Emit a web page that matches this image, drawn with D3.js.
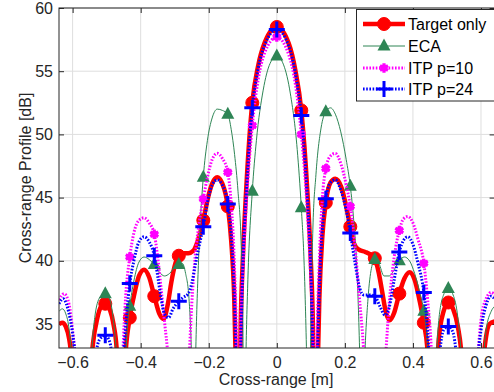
<!DOCTYPE html>
<html>
<head>
<meta charset="utf-8">
<script src="https://cdn.jsdelivr.net/npm/d3@7"></script>
<style>
  body { margin: 0; background: #fff; }
  svg { display: block; font-family: "Liberation Sans", Arial, Helvetica, sans-serif; }
</style>
</head>
<body>
<div id="chart"></div>
<script>
// ---- data ----
const xTicks = [-0.6, -0.4, -0.2, 0, 0.2, 0.4, 0.6];
const yTicks = [35, 40, 45, 50, 55, 60];
const seriesNames = ["Target only", "ECA", "ITP p=10", "ITP p=24"];

const markerX = [-0.504, -0.432, -0.36, -0.288, -0.216, -0.144, -0.072, 0, 0.072, 0.144, 0.216, 0.288, 0.36, 0.432, 0.504];
const targetMarks = [36.6, 35.5, 37.2, 40.4, 43.2, 44.3, 52.5, 58.5, 51.9, 44.6, 42.7, 40.2, 37.4, 35.1, 36.7];
const ecaMarks = [37.4, 36.4, 39.7, 39.7, 46.6, 51.6, 45.5, 56.2, 44.2, 51.8, 45.9, 40.1, 40.0, 36.0, 37.8];
const itp10Marks = [28, 40.3, 42.1, 23, 44.9, 47.0, 50.7, 57.7, 50.0, 47.3, 44.3, 23, 42.4, 39.8, 28];
const itp24Marks = [34.1, 38.2, 40.4, 36.8, 42.7, 44.5, 52.1, 58.3, 51.5, 44.9, 42.2, 37.2, 40.7, 37.5, 34.8];

const targetCurve = [
  [-0.64, 35.0], [-0.63, 35.1], [-0.62, 34.8], [-0.61, 33.8], [-0.60, 31.5], [-0.585, 24], [-0.565, 24],
  [-0.55, 30.5], [-0.54, 33.5], [-0.528, 35.4], [-0.516, 36.4], [-0.504, 36.6], [-0.49, 36.1], [-0.48, 35.0],
  [-0.47, 32.8], [-0.458, 22], [-0.446, 32], [-0.432, 35.5], [-0.42, 37.2], [-0.405, 38.8], [-0.39, 39.3],
  [-0.375, 38.7], [-0.36, 37.2], [-0.345, 35.8], [-0.333, 35.4], [-0.32, 36.6], [-0.31, 38.3], [-0.298, 39.8],
  [-0.288, 40.4], [-0.275, 40.6], [-0.26, 40.6], [-0.245, 40.8], [-0.232, 41.6], [-0.216, 43.2], [-0.203, 44.9],
  [-0.19, 46.1], [-0.175, 46.6], [-0.16, 46.1], [-0.144, 44.3], [-0.134, 41.6], [-0.125, 37], [-0.118, 29],
  [-0.113, 20], [-0.106, 35], [-0.1, 40], [-0.09, 45.6], [-0.072, 52.5], [-0.055, 55.4], [-0.035, 57.3],
  [0, 58.5], [0.035, 57.2], [0.055, 55.0], [0.072, 51.9], [0.09, 45.4], [0.1, 40], [0.106, 35], [0.113, 20],
  [0.118, 29], [0.125, 37], [0.134, 42], [0.144, 44.6], [0.158, 46.2], [0.172, 46.5], [0.19, 45.8],
  [0.204, 44.3], [0.216, 42.7], [0.228, 41.3], [0.24, 40.9], [0.26, 40.7], [0.275, 40.5], [0.288, 40.2],
  [0.30, 39.0], [0.31, 37.5], [0.32, 36.0], [0.332, 35.3], [0.345, 35.9], [0.36, 37.4], [0.375, 38.6],
  [0.39, 39.1], [0.405, 38.5], [0.42, 36.8], [0.432, 35.1], [0.444, 32.5], [0.455, 22], [0.466, 29],
  [0.476, 33.8], [0.49, 36.0], [0.504, 36.7], [0.518, 36.2], [0.532, 34.8], [0.543, 32.5], [0.558, 24],
  [0.59, 24], [0.605, 31.5], [0.615, 34], [0.625, 35.0], [0.64, 35.2]
];

const ecaCurve = [
  [-0.64, 36.0], [-0.63, 36.2], [-0.62, 35.8], [-0.61, 34.5], [-0.60, 31], [-0.59, 23], [-0.555, 23],
  [-0.545, 32], [-0.535, 35.5], [-0.52, 37.1], [-0.504, 37.4], [-0.49, 36.9], [-0.48, 35.2], [-0.47, 32],
  [-0.458, 22], [-0.447, 30], [-0.44, 34.5], [-0.432, 36.4], [-0.42, 38.4], [-0.405, 39.9], [-0.39, 40.3],
  [-0.375, 40.1], [-0.36, 39.7], [-0.345, 39.1], [-0.33, 38.8], [-0.315, 39.0], [-0.3, 39.5], [-0.288, 39.7],
  [-0.278, 39.8], [-0.268, 39.0], [-0.258, 37], [-0.25, 32], [-0.244, 24], [-0.238, 33], [-0.23, 40],
  [-0.216, 46.6], [-0.204, 49.5], [-0.19, 51.3], [-0.175, 52.0], [-0.16, 51.9], [-0.144, 51.6], [-0.134, 50.4],
  [-0.124, 48.4], [-0.114, 45.5], [-0.105, 41.5], [-0.1, 36], [-0.096, 22], [-0.091, 32], [-0.085, 38.5],
  [-0.072, 45.5], [-0.06, 49.5], [-0.04, 53.5], [-0.02, 55.6], [0, 56.2], [0.02, 55.5], [0.04, 53.2],
  [0.06, 48.8], [0.072, 44.2], [0.08, 40], [0.088, 32], [0.095, 22], [0.1, 35], [0.106, 42.5], [0.115, 46.8],
  [0.13, 50.5], [0.144, 51.8], [0.158, 52.1], [0.172, 51.6], [0.188, 50.2], [0.204, 48.0], [0.216, 45.9],
  [0.226, 43.2], [0.236, 39], [0.245, 31], [0.25, 24], [0.258, 32], [0.268, 37], [0.278, 39.4], [0.288, 40.1],
  [0.30, 39.8], [0.315, 38.8], [0.33, 38.8], [0.345, 39.3], [0.36, 40.0], [0.375, 40.3], [0.39, 40.0],
  [0.405, 39.0], [0.42, 37.5], [0.432, 36.0], [0.443, 33], [0.455, 22], [0.465, 30], [0.475, 35], [0.49, 37.3],
  [0.504, 37.8], [0.518, 37.3], [0.532, 35.5], [0.543, 32], [0.555, 23], [0.595, 23], [0.605, 31],
  [0.615, 34.5], [0.63, 36.0], [0.64, 36.4]
];

const itp10Curve = [
  [-0.64, 36.9], [-0.625, 37.4], [-0.61, 36.5], [-0.60, 34.5], [-0.59, 31.5], [-0.578, 24], [-0.55, 27],
  [-0.52, 29], [-0.49, 28], [-0.47, 24], [-0.46, 28], [-0.452, 33], [-0.444, 37.2], [-0.432, 40.3],
  [-0.42, 42.2], [-0.405, 43.2], [-0.39, 43.4], [-0.375, 43.0], [-0.36, 42.1], [-0.35, 40.3], [-0.34, 37.8],
  [-0.33, 35.2], [-0.32, 32.5], [-0.31, 28], [-0.288, 23], [-0.27, 27], [-0.26, 31], [-0.25, 36.5],
  [-0.24, 40.3], [-0.228, 43], [-0.216, 44.9], [-0.204, 46.6], [-0.19, 48.0], [-0.175, 48.5], [-0.16, 48.1],
  [-0.144, 47.0], [-0.134, 44.5], [-0.125, 40], [-0.118, 33], [-0.113, 22], [-0.107, 34], [-0.1, 39],
  [-0.09, 44.3], [-0.072, 50.7], [-0.055, 54.3], [-0.035, 56.5], [0, 57.7], [0.035, 56.3], [0.055, 53.9],
  [0.072, 50.0], [0.09, 43.8], [0.1, 38.5], [0.107, 33.5], [0.113, 22], [0.118, 33], [0.125, 40], [0.134, 45],
  [0.144, 47.3], [0.158, 48.3], [0.172, 48.5], [0.188, 47.7], [0.204, 46.0], [0.216, 44.3], [0.228, 41.6],
  [0.243, 37], [0.255, 33], [0.265, 28], [0.288, 23], [0.31, 28], [0.32, 32.5], [0.33, 36.5], [0.345, 40.3],
  [0.36, 42.4], [0.372, 43.3], [0.385, 43.5], [0.40, 43.0], [0.415, 41.7], [0.432, 39.8], [0.443, 37],
  [0.454, 33], [0.465, 25], [0.49, 28], [0.52, 29], [0.55, 27], [0.578, 24], [0.59, 32], [0.60, 35.3],
  [0.615, 37.0], [0.63, 37.5], [0.64, 37.3]
];

const itp24Curve = [
  [-0.64, 36.6], [-0.628, 37.0], [-0.615, 36.3], [-0.60, 34.2], [-0.59, 31.8], [-0.578, 25], [-0.545, 26],
  [-0.532, 32.5], [-0.52, 33.8], [-0.504, 34.1], [-0.49, 33.5], [-0.48, 31], [-0.468, 26], [-0.458, 30],
  [-0.448, 33.5], [-0.432, 38.2], [-0.42, 40.0], [-0.405, 41.5], [-0.39, 41.9], [-0.375, 41.5], [-0.36, 40.4],
  [-0.35, 38.8], [-0.34, 37.0], [-0.33, 35.8], [-0.318, 35.5], [-0.305, 36.2], [-0.288, 36.8], [-0.275, 37.1],
  [-0.26, 37.4], [-0.25, 38.2], [-0.24, 39.6], [-0.228, 41.2], [-0.216, 42.7], [-0.204, 44.6], [-0.19, 46.0],
  [-0.175, 46.4], [-0.16, 46.0], [-0.144, 44.5], [-0.134, 42], [-0.125, 37], [-0.118, 30], [-0.113, 22],
  [-0.108, 30], [-0.1, 39.5], [-0.09, 45.3], [-0.072, 52.1], [-0.055, 55.2], [-0.035, 57.1], [0, 58.3],
  [0.035, 57.0], [0.055, 54.8], [0.072, 51.5], [0.09, 45.0], [0.1, 39.3], [0.108, 30], [0.113, 22], [0.118, 30],
  [0.125, 37.5], [0.134, 42.5], [0.144, 44.9], [0.158, 46.2], [0.172, 46.4], [0.188, 45.6], [0.204, 44.0],
  [0.216, 42.2], [0.23, 39.8], [0.244, 37.8], [0.255, 37.3], [0.27, 37.3], [0.288, 37.2], [0.303, 36.4],
  [0.318, 35.7], [0.33, 36.3], [0.345, 38.5], [0.36, 40.7], [0.372, 41.6], [0.385, 41.9], [0.40, 41.3],
  [0.415, 39.8], [0.432, 37.5], [0.443, 34.5], [0.452, 30], [0.46, 25], [0.47, 29], [0.48, 33], [0.49, 34.5],
  [0.504, 34.8], [0.518, 34.3], [0.528, 32.5], [0.545, 26], [0.578, 25], [0.59, 32], [0.60, 34.5],
  [0.615, 36.5], [0.63, 37.2], [0.64, 37.0]
];

// ---- layout ----
const W = 494, H = 392;
const plotLeft = 59, plotRight = 494.6, plotTop = 8, plotBottom = 348;
const axisColor = "#262626";

const x = d3.scaleLinear().domain([-0.64, 0.64]).range([plotLeft, plotRight]);
const y = d3.scaleLinear().domain([33.1, 60]).range([plotBottom, plotTop]);

const svg = d3.select("#chart").append("svg")
  .attr("width", W)
  .attr("height", H);

svg.append("defs").append("clipPath")
  .attr("id", "plot-clip")
  .append("rect")
  .attr("x", plotLeft).attr("y", plotTop)
  .attr("width", plotRight - plotLeft).attr("height", plotBottom - plotTop);

// grid
const grid = svg.append("g").attr("stroke", "#dedede").attr("stroke-width", 1);
grid.selectAll(".gx").data(xTicks).enter().append("line")
  .attr("x1", d => x(d)).attr("x2", d => x(d))
  .attr("y1", plotTop).attr("y2", plotBottom);
grid.selectAll(".gy").data(yTicks).enter().append("line")
  .attr("x1", plotLeft).attr("x2", plotRight)
  .attr("y1", d => y(d)).attr("y2", d => y(d));

// axes with inward ticks
svg.append("g")
  .attr("transform", `translate(0,${plotBottom})`)
  .call(d3.axisBottom(x).tickValues(xTicks).tickFormat(d => d3.format("")(d))
    .tickSizeInner(-5).tickSizeOuter(0).tickPadding(9));
svg.append("g")
  .attr("transform", `translate(${plotLeft},0)`)
  .call(d3.axisLeft(y).tickValues(yTicks).tickSizeInner(-5).tickSizeOuter(0).tickPadding(6));
svg.append("g")
  .attr("transform", `translate(0,${plotTop})`)
  .call(d3.axisTop(x).tickValues(xTicks).tickFormat("").tickSizeInner(-5).tickSizeOuter(0));
svg.append("g")
  .attr("transform", `translate(${plotRight},0)`)
  .call(d3.axisRight(y).tickValues(yTicks).tickFormat("").tickSizeInner(-5).tickSizeOuter(0));

svg.selectAll(".domain").remove();
svg.selectAll(".tick line").attr("stroke", axisColor);
svg.selectAll(".tick text")
  .attr("fill", axisColor)
  .style("font-size", "16px")
  .style("font-family", "'Liberation Sans', Arial, sans-serif");

// curves
const plot = svg.append("g").attr("clip-path", "url(#plot-clip)");
const line = d3.line()
  .x(d => x(d[0]))
  .y(d => y(d[1]))
  .curve(d3.curveMonotoneX);

const styles = [
  { curve: targetCurve, marks: targetMarks, color: "#ff0000", width: 4.5, dash: null, marker: "circle" },
  { curve: ecaCurve, marks: ecaMarks, color: "#2e8555", width: 1, dash: null, marker: "triangle" },
  { curve: itp10Curve, marks: itp10Marks, color: "#ff00ff", width: 3, dash: "1.6 1.6", marker: "star" },
  { curve: itp24Curve, marks: itp24Marks, color: "#0000ff", width: 3, dash: "1.6 1.6", marker: "plus" }
];

function drawMarker(g, kind, color) {
  if (kind === "circle") {
    g.append("circle").attr("r", 6.5).attr("fill", color).attr("stroke", color);
  } else if (kind === "triangle") {
    g.append("path").attr("d", "M0,-7.5L6.5,4.5L-6.5,4.5Z").attr("fill", color);
  } else if (kind === "star") {
    g.append("path")
      .attr("d", d3.symbol(d3.symbolAsterisk, 60)())
      .attr("fill", "none").attr("stroke", color).attr("stroke-width", 3.2);
    g.append("circle").attr("r", 3.5).attr("fill", color);
  } else if (kind === "plus") {
    g.append("path").attr("d", "M-8,0H8M0,-8V8")
      .attr("stroke", color).attr("stroke-width", 3).attr("fill", "none");
  }
}

styles.forEach(s => {
  plot.append("path")
    .datum(s.curve)
    .attr("d", line)
    .attr("fill", "none")
    .attr("stroke", s.color)
    .attr("stroke-width", s.width)
    .attr("stroke-dasharray", s.dash)
    .attr("stroke-linejoin", "round");
  plot.selectAll(null)
    .data(markerX.map((mx, i) => [mx, s.marks[i]]))
    .enter().append("g")
    .attr("transform", d => `translate(${x(d[0])},${y(d[1])})`)
    .each(function () { drawMarker(d3.select(this), s.marker, s.color); });
});

// box
svg.append("rect")
  .attr("x", plotLeft).attr("y", plotTop)
  .attr("width", plotRight - plotLeft).attr("height", plotBottom - plotTop)
  .attr("fill", "none").attr("stroke", axisColor).attr("stroke-width", 1);

// axis titles
svg.append("text")
  .attr("x", 276).attr("y", 385)
  .attr("text-anchor", "middle")
  .attr("fill", axisColor)
  .style("font-size", "16px")
  .text("Cross-range [m]");
svg.append("text")
  .attr("transform", "translate(31,178) rotate(-90)")
  .attr("text-anchor", "middle")
  .attr("fill", axisColor)
  .style("font-size", "16px")
  .text("Cross-range Profile [dB]");

// legend
const legend = svg.append("g");
legend.append("rect")
  .attr("x", 356.5).attr("y", 9.5)
  .attr("width", 150).attr("height", 91.5)
  .attr("fill", "#fff").attr("stroke", axisColor).attr("stroke-width", 1);
const legendY = [24, 46, 68, 89];
styles.forEach((s, i) => {
  const row = legend.append("g").attr("transform", `translate(0,${legendY[i]})`);
  row.append("line")
    .attr("x1", 363).attr("x2", 405)
    .attr("stroke", s.color).attr("stroke-width", s.width)
    .attr("stroke-dasharray", s.dash);
  drawMarker(row.append("g").attr("transform", "translate(384,0)"), s.marker, s.color);
  row.append("text")
    .attr("x", 408).attr("y", 0)
    .attr("dy", "0.35em")
    .attr("fill", "#000")
    .style("font-size", "16px")
    .text(seriesNames[i]);
});
</script>
</body>
</html>
